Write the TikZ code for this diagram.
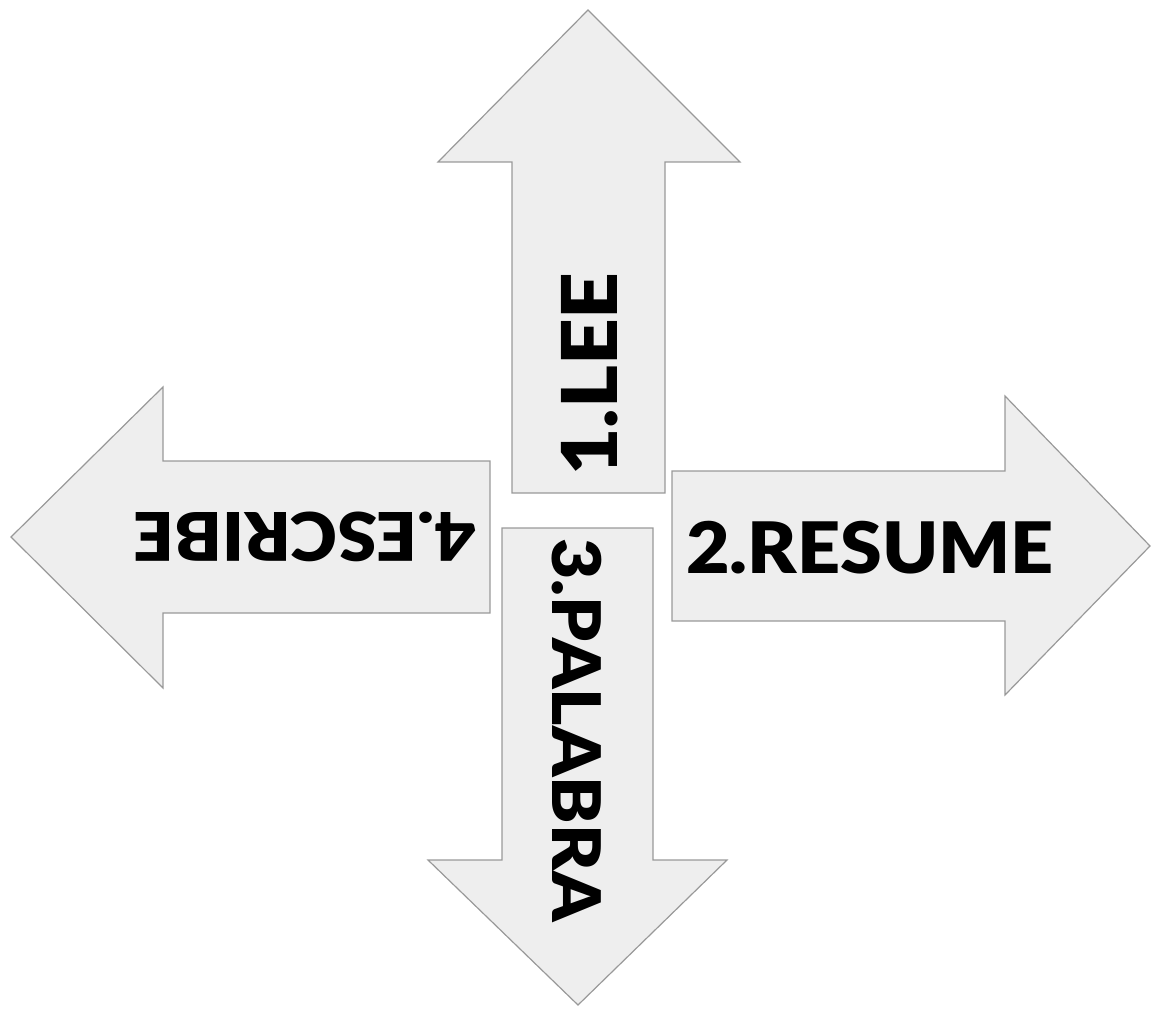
\documentclass[tikz,border=0pt]{standalone}
\usepackage{fontspec}
\newfontfamily\heavyfont{Lato}[UprightFont=* Black]
\definecolor{arrowfill}{HTML}{EEEEEE}
\definecolor{arrowedge}{HTML}{999999}
\newcommand{\widetext}[1]{\scalebox{1.06}[1]{#1}}
\tikzset{
  arrowbody/.style={fill=arrowfill, draw=arrowedge, line width=1.2pt, line join=miter},
  arrowlabel/.style={font=\heavyfont\fontsize{#1}{#1}\selectfont, inner sep=0pt}
}
\begin{document}
\begin{tikzpicture}[x=1pt,y=-1pt]
    \useasboundingbox (0,0) rectangle (1151,1011);

    % Up arrow
    \draw[arrowbody] (512,493) -- (512,162) -- (438,162) -- (588,10) -- (740,162) -- (665,162) -- (665,493) -- cycle;
    % Right arrow
    \draw[arrowbody] (672,471) -- (1005,471) -- (1005,396) -- (1150,546) -- (1005,695) -- (1005,621) -- (672,621) -- cycle;
    % Down arrow
    \draw[arrowbody] (502,528) -- (653,528) -- (653,860) -- (727,860) -- (578,1005) -- (428,860) -- (502,860) -- cycle;
    % Left arrow
    \draw[arrowbody] (490,461) -- (163,461) -- (163,387) -- (11,537) -- (163,688) -- (163,613) -- (490,613) -- cycle;

    % Labels
    \node[arrowlabel=77, rotate=90] (lee) at (590,374) {\widetext{1.LEE}};
    \node[arrowlabel=71] (resume) at (870,548) {\widetext{2.RESUME}};
    \node[arrowlabel=67, rotate=-90] (palabra) at (577,730) {\widetext{3.PALABRA}};
    \node[arrowlabel=67, rotate=180] (escribe) at (305,537) {\widetext{4.ESCRIBE}};
\end{tikzpicture}
\end{document}
